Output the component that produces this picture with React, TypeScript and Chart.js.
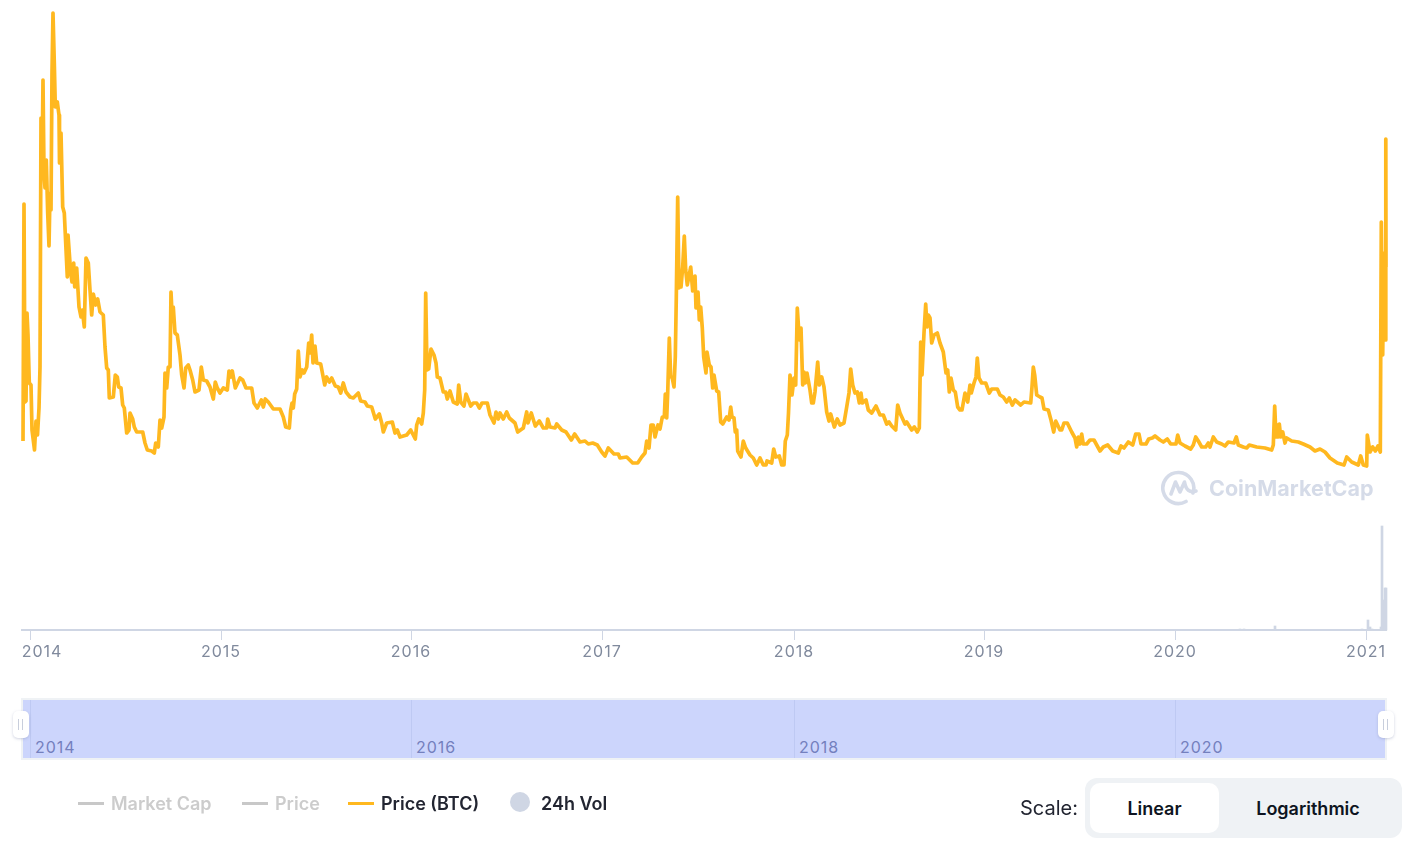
import { useEffect, useRef } from "react";
import { Chart, registerables } from "chart.js";

Chart.register(...registerables);

// no y axis in the picture, so prices are relative units.
// first number of each pair = sample number along the time axis (about 1.9 days each)
const price2014: [number, number][] = [
  [1, 189], [2, 426], [3, 228], [4, 229], [5, 317], [6, 295], [7.3, 247], [9, 245], [10, 200], [12.5, 180],
  [14, 209], [15.5, 195], [17, 222], [18, 263], [19, 512], [20, 457], [21, 550], [22, 457], [23, 442], [24.3, 470],
  [25.7, 417], [27, 384], [28, 437], [29, 420], [30, 557], [31, 617], [32.3, 567], [33.3, 523], [35.3, 528], [37, 515],
  [37.5, 467], [38, 483], [39, 497], [40.7, 423], [42.3, 417], [45.3, 353], [46, 395], [48.7, 357], [50, 348], [51.7, 367],
  [52.7, 343], [54.7, 362], [57, 323], [59, 313], [60.3, 320], [62.3, 303], [64, 372], [66.3, 367], [68, 340], [69.7, 315],
  [71.3, 336], [73.7, 325], [75.7, 331], [78, 318], [81.3, 315], [83, 283], [84.7, 262], [86.3, 260], [87.3, 232], [91.3, 233],
  [93.3, 255], [95.3, 253], [96.7, 243], [99, 242], [100.7, 225], [102.3, 222], [104.7, 197], [107, 200], [108, 217], [110.7, 211],
  [112.3, 203], [114.7, 198], [120.7, 198], [123, 187], [125.3, 180], [129.7, 179], [132.3, 177], [133.7, 187], [136.3, 183], [138, 210],
  [139.7, 202], [142, 213], [143, 257], [144.7, 242], [146.3, 263], [148, 263], [149, 338], [150.3, 310], [151.3, 323], [153, 297],
  [155.3, 295], [158, 275], [159.7, 255], [162, 242], [163.7, 262], [166.3, 265], [168, 260],
];

const price2015: [number, number][] = [
  [170.7, 250], [173, 238], [177, 240], [179.3, 263], [181.3, 250], [184.7, 249], [188, 243], [191.3, 231], [193.3, 248], [195.3, 242],
  [198, 237], [201.3, 242], [205.3, 240], [207, 259], [209, 253], [210.3, 259], [213.3, 242], [218, 252], [220.7, 250], [224, 242],
  [229.7, 242], [232, 227], [235.3, 222], [239.3, 230], [241.3, 223], [243.3, 231], [246.3, 228], [251.3, 221], [258, 221], [261.3, 213],
  [263.7, 203], [267.3, 202], [268.7, 220], [270, 227], [271.3, 222], [272.7, 236], [274.7, 241], [276.3, 279], [278, 253], [280.3, 260],
  [282, 257], [284.7, 263], [286.7, 287], [288, 277], [289.7, 295], [291, 267], [293, 284], [294.7, 267], [298.7, 266], [302.7, 245],
  [304.7, 253], [307.3, 248], [309.7, 252], [313.3, 244], [316.3, 243], [318.7, 237], [321.3, 247], [324, 238], [328, 233], [331.3, 232],
  [336.3, 237], [338.7, 229], [343, 228], [345.3, 224], [349.7, 223], [353.3, 211], [357.3, 216], [359.7, 207], [361.3, 198], [364.7, 207],
  [370.3, 208], [373, 197], [375.3, 200], [378, 193], [384.7, 195], [388.7, 200], [393.3, 191], [394.7, 205], [396.7, 211],
];

const price2016: [number, number][] = [
  [399.7, 206], [401.3, 217], [402.7, 240], [403.7, 337], [405, 260], [406.7, 261], [409, 281], [412, 275], [414, 267], [415.3, 253],
  [418, 252], [421.3, 238], [423.7, 238], [425.3, 231], [428, 239], [431.3, 228], [435.3, 226], [436.7, 245], [438.7, 228], [442, 224],
  [444, 236], [448.7, 224], [451.3, 227], [454.7, 227], [457.3, 222], [460, 227], [465.3, 227], [468, 215], [472, 207], [474, 218],
  [476.3, 211], [478, 217], [481.3, 211], [484.7, 218], [487.3, 212], [493, 207], [495.7, 198], [501.3, 202], [504.7, 218], [506, 207],
  [509.3, 217], [513.3, 204], [517.3, 209], [521.3, 202], [524.7, 202], [525.7, 211], [528, 203], [533, 202], [534.7, 206], [539.7, 200],
  [544, 198], [549.3, 190], [552.7, 196], [558, 188], [563, 189], [566.3, 186], [570.7, 187], [575.3, 185], [579.7, 178], [583, 174],
  [586.3, 182], [592, 176], [596.3, 176], [598, 172], [604.7, 173], [610.7, 167], [615.7, 167],
];

const price2017: [number, number][] = [
  [619.7, 173], [623, 177], [624.7, 189], [627, 182], [629, 205], [631.3, 205], [633, 193], [636, 205], [638, 201], [640.3, 213],
  [642.3, 213], [643.3, 236], [644.7, 212], [645.7, 237], [647.3, 292], [648.7, 253], [650, 253], [652, 243], [653.3, 273], [654.3, 333],
  [655.7, 433], [657, 342], [658, 357], [659, 343], [660.7, 363], [662.3, 394], [663.7, 360], [665.3, 345], [668.7, 363], [670.7, 339],
  [673, 354], [674, 322], [676, 338], [677.3, 310], [678.7, 323], [680.3, 302], [681.7, 273], [684, 257], [685, 278], [687.3, 265],
  [689, 263], [690.7, 242], [692, 255], [694.7, 239], [696.7, 238], [698.7, 208], [700.7, 206], [704.7, 213], [707, 210], [708.7, 223],
  [710, 213], [712, 212], [713.3, 198], [714.7, 200], [715.7, 179], [719, 173], [721.3, 189], [723.7, 182], [728, 175], [731.3, 172],
  [734.7, 165], [738, 172], [741.3, 165], [744, 165], [745, 169], [749.7, 167], [751.7, 181], [753.7, 173], [757.3, 174], [759.7, 165],
  [762, 165], [763.3, 189], [765.3, 195], [766.5, 217], [768, 255], [770, 235], [772, 252],
];

const price2018: [number, number][] = [
  [773.7, 245], [775.3, 322], [777.3, 290], [779, 302], [780.7, 245], [782, 258], [783.3, 247], [785, 257], [788, 240], [789.7, 227],
  [791.3, 227], [793, 238], [795.7, 268], [797.3, 245], [799.7, 253], [802, 243], [804.7, 218], [807, 209], [808.7, 216], [812.3, 203],
  [815.3, 211], [818, 205], [822, 207], [824.7, 223], [827, 237], [828.7, 261], [830.7, 245], [833, 237], [835.3, 238], [837.3, 227],
  [839, 237], [840.3, 227], [844, 230], [846.3, 220], [849.7, 217], [854, 224], [858, 215], [861.3, 215], [864.7, 206], [867, 208],
  [869.7, 204], [873.7, 200], [875.7, 225], [878, 217], [883, 206], [884.7, 208], [889.7, 200], [892.3, 203], [895.3, 198], [897.3, 202],
  [898.7, 288], [900, 255], [902, 297], [903.7, 326], [905, 303], [906.3, 315], [908, 312], [909.7, 287], [912, 295], [915.3, 297],
  [918, 287], [921.3, 278], [924, 257], [925.7, 260], [927.3, 238], [929, 252], [931.3, 240], [933.3, 238], [935.7, 223], [938, 220],
  [940, 220], [943, 237], [945.7, 228], [948, 245], [949.3, 237], [952, 247], [954, 253], [955.3, 272], [957, 252], [959.7, 247],
];

const price2019: [number, number][] = [
  [963.7, 247], [967.3, 237], [969.7, 241], [975.3, 241], [978, 235], [981.3, 233], [984.7, 228], [987.3, 232], [990.3, 225], [993, 230],
  [995.3, 228], [998.7, 225], [1002, 228], [1008.7, 227], [1010, 243], [1011.3, 263], [1012.7, 255], [1014.7, 235], [1018, 233], [1020, 232],
  [1022, 221], [1026.3, 220], [1029, 210], [1031.7, 198], [1033.7, 209], [1038, 200], [1039.7, 200], [1042, 207], [1045.3, 207], [1049.7, 198],
  [1053, 192], [1054.7, 183], [1056.3, 193], [1058, 186], [1059.7, 196], [1061.3, 186], [1064.7, 186], [1068, 190], [1072, 190], [1078, 179],
  [1081.3, 183], [1085.7, 185], [1090.7, 179], [1096.3, 177], [1099, 184], [1102, 182], [1106.3, 188], [1110.7, 185], [1113.7, 196], [1117, 196],
  [1119, 186], [1124, 186], [1126.7, 191], [1130.3, 192], [1133, 194],
];

const price2020: [number, number][] = [
  [1138, 190], [1141.3, 188], [1145.3, 191], [1148.7, 186], [1154, 186], [1155.7, 195], [1158, 187], [1163, 184], [1168.7, 181], [1171.3, 185],
  [1173.7, 193], [1176.3, 189], [1179.7, 183], [1183.7, 183], [1186.3, 187], [1188, 183], [1191.3, 193], [1194.7, 188], [1199.7, 186], [1203, 184],
  [1206.3, 188], [1212, 187], [1214.3, 193], [1216.3, 185], [1221.3, 183], [1224.7, 182], [1227.3, 185], [1234.7, 183], [1243, 182], [1249.7, 180],
  [1251.3, 185], [1252.7, 224], [1254, 193], [1255.3, 205], [1256, 193], [1257.3, 206], [1258.7, 193], [1260.7, 198], [1263, 187], [1264.7, 192],
  [1269.7, 189], [1276.3, 188], [1281.3, 186], [1288, 183], [1293, 179], [1298, 181], [1303, 178], [1308, 172], [1315.3, 167], [1322, 165],
  [1324.7, 173], [1329.7, 168], [1336.3, 165], [1338.7, 174], [1341.3, 165], [1344.7, 164],
];

const price2021: [number, number][] = [
  [1345.3, 195], [1348, 178], [1350.7, 183], [1353.3, 179], [1356, 184], [1358.3, 178], [1359.3, 408], [1360.7, 275], [1362, 377], [1363, 290],
  [1363.8, 491], [1364, 363],
];

const volumeSeries: [number, number][] = [
  [1218, 1], [1222, 1], [1253, 4], [1340, 1], [1346, 10], [1348, 3], [1350, 1], [1359, 3], [1360, 104], [1361, 30], [1362, 25], [1363, 42], [1364, 42],
];

const yearTicks = [8, 20, 199, 389, 580, 772, 962, 1153, 1344];
const yearLabels = ["", "2014", "2015", "2016", "2017", "2018", "2019", "2020", "2021"];
const navTicks = [8, 389, 772, 1153];
const navLabels = ["2014", "2016", "2018", "2020"];

const FONT = "Inter, sans-serif";
const ORANGE = "#FFB81F";
const AXIS = "#CFD6E4";

function LegendItem({ label, color, textColor, left, textLeft, dot }: { label: string; color: string; textColor: string; left: number; textLeft: number; dot?: boolean }) {
  return (
    <>
      {dot ? (
        <div style={{ position: "absolute", left: left, top: 792, width: 20, height: 20, borderRadius: 10, background: color }} />
      ) : (
        <div style={{ position: "absolute", left: left, top: 802, width: 26, height: 3, background: color }} />
      )}
      <div style={{ position: "absolute", left: textLeft, top: 793, fontSize: 18, lineHeight: "21px", fontWeight: 600, color: textColor, whiteSpace: "nowrap" }}>{label}</div>
    </>
  );
}

function Handle({ left }: { left: number }) {
  return (
    <div style={{ position: "absolute", left, top: 711, width: 16, height: 27, borderRadius: 5, background: "#fff", boxShadow: "0 1px 3px rgba(120,130,170,.35)" }}>
      <div style={{ position: "absolute", left: 5, top: 8, width: 1, height: 11, background: "#C8CEDC" }} />
      <div style={{ position: "absolute", left: 9, top: 8, width: 1, height: 11, background: "#C8CEDC" }} />
    </div>
  );
}

export default function App() {
  const canvasRef = useRef<HTMLCanvasElement>(null);

  useEffect(() => {
    const canvas = canvasRef.current;
    if (!canvas) return;

    const price = [...price2014, ...price2015, ...price2016, ...price2017, ...price2018, ...price2019, ...price2020, ...price2021];

    const chart = new Chart(canvas, {
      type: "line",
      data: {
        datasets: [
          {
            type: "line",
            label: "Price (BTC)",
            data: price.map(([x, y]) => ({ x, y })),
            borderColor: ORANGE,
            borderWidth: 3.7,
            borderJoinStyle: "round",
            pointRadius: 0,
            tension: 0,
            clip: false,
            yAxisID: "y",
            order: 1,
          },
          {
            type: "bar",
            label: "24h Vol",
            data: volumeSeries.map(([x, y]) => ({ x, y })),
            backgroundColor: AXIS,
            barThickness: 2,
            clip: false,
            yAxisID: "yVol",
            order: 2,
          },
        ],
      },
      options: {
        responsive: false,
        animation: false,
        layout: { padding: { left: 22, right: 27, top: 10, bottom: 186 } },
        plugins: { legend: { display: false }, tooltip: { enabled: false } },
        scales: {
          x: {
            type: "linear",
            min: 0,
            max: 1364,
            offset: false,
            afterBuildTicks: (scale) => {
              scale.ticks = yearTicks.map((value) => ({ value }));
            },
            afterFit: (scale) => {
              scale.height = 30;
            },
            border: { color: AXIS, width: 2 },
            grid: {
              offset: false,
              drawOnChartArea: false,
              tickLength: 10,
              tickWidth: 1,
              tickColor: (ctx) => (ctx.index === 1 ? "rgba(0,0,0,0)" : AXIS),
            },
            ticks: {
              autoSkip: false,
              maxRotation: 0,
              padding: 3,
              color: "#808A9D",
              font: { family: FONT, size: 16 },
              callback: (_v, i) => yearLabels[i],
            },
          },
          y: { display: false, min: 0, max: 620 },
          yVol: { display: false, min: 0, max: 620 },
        },
      },
      plugins: [
        {
          id: "tickSpacing",
          beforeDraw: (c) => {
            (c.ctx as any).letterSpacing = "1px";
          },
        },
      ],
    });

    return () => chart.destroy();
  }, []);

  return (
    <div style={{ position: "absolute", left: 0, top: 0, width: 1413, height: 846, background: "#fff", fontFamily: FONT, overflow: "hidden" }}>
      <canvas ref={canvasRef} width={1413} height={846} style={{ position: "absolute", left: 0, top: 0 }} />

      {/* watermark */}
      <svg width={40} height={40} style={{ position: "absolute", left: 1160, top: 467 }} viewBox="0 0 40 40" fill="none" stroke="#D5DBE8" strokeWidth={3.6} strokeLinecap="round" strokeLinejoin="round">
        <path d="M33 26 A 15.5 15.5 0 1 0 26 34.5" />
        <path d="M11 27 L15.5 15 L20 25 L24.5 15 Q26.5 27 36 24" />
      </svg>
      <div style={{ position: "absolute", left: 1209, top: 474, fontSize: 21.5, lineHeight: "28px", fontWeight: 700, color: "#D5DBE8", whiteSpace: "nowrap" }}>CoinMarketCap</div>

      {/* range slider */}
      <div style={{ position: "absolute", left: 21, top: 698, width: 1362, height: 58, background: "#CCD5FC", border: "2px solid #EFF2F5" }} />
      {navTicks.map((t, i) => (
        <div key={t}>
          <div style={{ position: "absolute", left: 22 + t, top: 700, width: 1, height: 58, background: "#BEC9F3" }} />
          <div style={{ position: "absolute", left: 27 + t, top: 737, fontSize: 16, lineHeight: "20px", letterSpacing: 1, color: "#7480BE" }}>{navLabels[i]}</div>
        </div>
      ))}
      <Handle left={13} />
      <Handle left={1378} />

      {/* legend */}
      <LegendItem label="Market Cap" color="#C8C8C8" textColor="#CCCCCC" left={78} textLeft={111} />
      <LegendItem label="Price" color="#C8C8C8" textColor="#CCCCCC" left={242} textLeft={275} />
      <LegendItem label="Price (BTC)" color={ORANGE} textColor="#222531" left={348} textLeft={381} />
      <LegendItem label="24h Vol" color={AXIS} textColor="#222531" left={510} textLeft={541} dot />

      {/* scale switch */}
      <div style={{ position: "absolute", left: 1020, top: 796, fontSize: 20, lineHeight: "24px", color: "#222531" }}>Scale:</div>
      <div style={{ position: "absolute", left: 1085, top: 778, width: 317, height: 60, borderRadius: 12, background: "#EFF2F5" }} />
      <div style={{ position: "absolute", left: 1090, top: 783, width: 129, height: 50, borderRadius: 10, background: "#fff" }} />
      <div style={{ position: "absolute", left: 1090, top: 784, width: 129, lineHeight: "50px", textAlign: "center", fontSize: 18, fontWeight: 600, color: "#0D1421" }}>Linear</div>
      <div style={{ position: "absolute", left: 1219, top: 784, width: 178, lineHeight: "50px", textAlign: "center", fontSize: 18, fontWeight: 600, color: "#0D1421" }}>Logarithmic</div>
    </div>
  );
}
